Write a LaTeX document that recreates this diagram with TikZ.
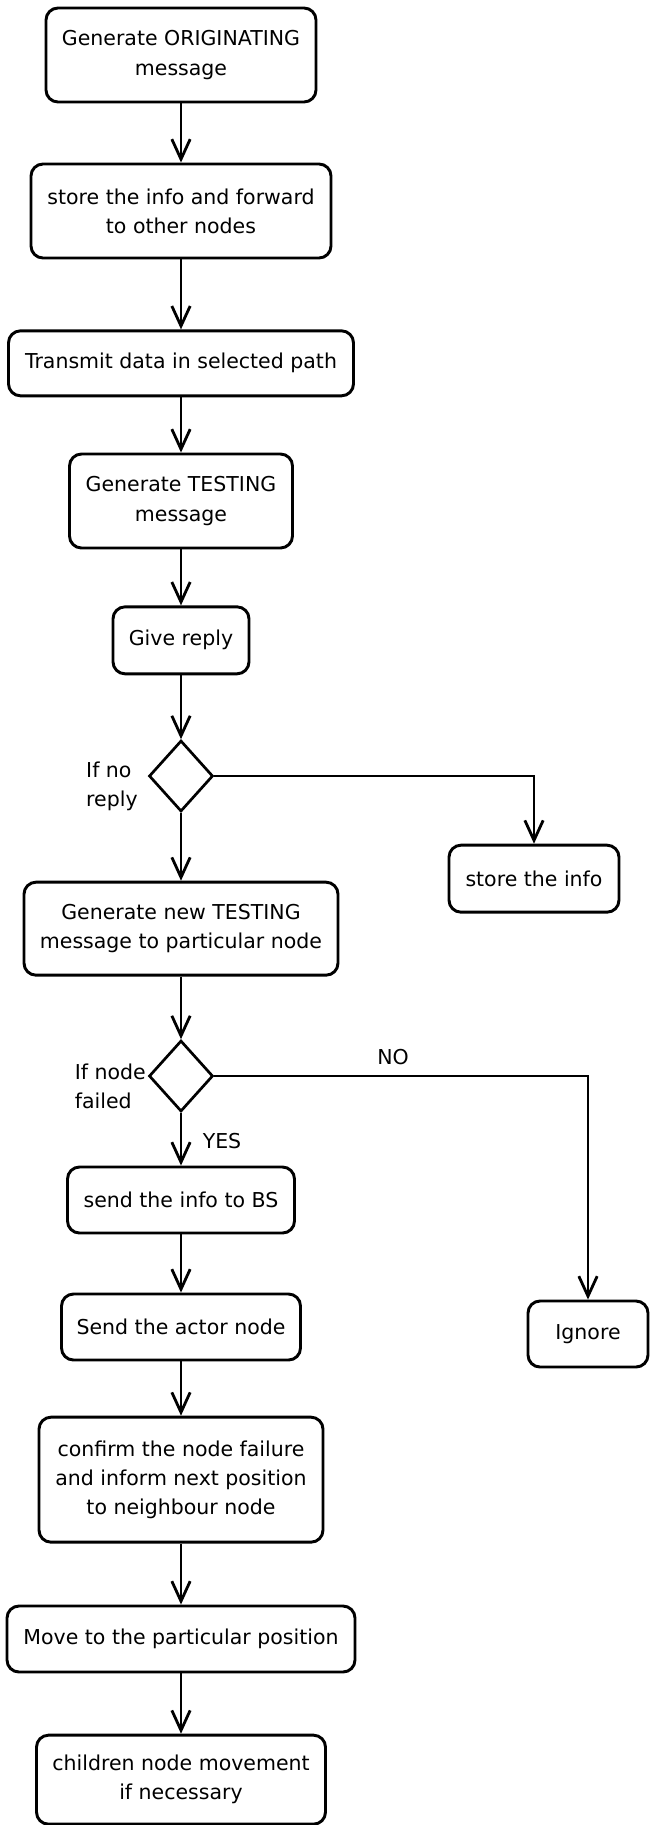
\documentclass[tikz,border=0pt]{standalone}
\usepackage{fontspec}
\setmainfont{DejaVu Sans}
\usepackage{tikz}
\usetikzlibrary{
  arrows.meta,
  positioning,
  shapes.geometric
}
\newcommand{\boxfont}{\fontsize{17.5}{24.8}\selectfont}

\begin{document}
\begin{tikzpicture}[
  stepbox/.style={draw, line width=2.5pt, rounded corners=0.36cm,
                  inner sep=0pt, font=\boxfont, align=center},
  decide/.style={draw, line width=2.3pt, diamond, inner sep=0pt,
                 minimum width=1.92cm, minimum height=2.13cm},
  arr/.style={-{Straight Barb[length=0.6cm, width=0.55cm]}, line width=2.4pt},
  lbl/.style={font=\boxfont, inner sep=0pt},
]
  \useasboundingbox (0, 0) rectangle (19.47, -54.75);

  % Main column
  \node[stepbox, minimum width=8.1cm, minimum height=2.82cm] (orig) at (5.43, -1.65) {Generate ORIGINATING\\message};
  \node[stepbox, minimum width=9.0cm, minimum height=2.82cm] (fwd) at (5.43, -6.33) {store the info and forward\\to other nodes};
  \node[stepbox, minimum width=10.35cm, minimum height=1.95cm] (trans) at (5.43, -10.9) {Transmit data in selected path};
  \node[stepbox, minimum width=6.69cm, minimum height=2.82cm] (test) at (5.43, -15.03) {Generate TESTING\\message};
  \node[stepbox, minimum width=4.08cm, minimum height=2.01cm] (reply) at (5.43, -19.21) {Give reply};
  \node[decide] (noreply) at (5.43, -23.28) {};
  \node[stepbox, minimum width=9.42cm, minimum height=2.79cm] (newtest) at (5.43, -27.86) {Generate new TESTING\\message to particular node};
  \node[decide] (failed) at (5.43, -32.28) {};
  \node[stepbox, minimum width=6.81cm, minimum height=1.98cm] (tobs) at (5.43, -36.0) {send the info to BS};
  \node[stepbox, minimum width=7.17cm, minimum height=1.98cm] (actor) at (5.43, -39.81) {Send the actor node};
  \node[stepbox, minimum width=8.52cm, minimum height=3.75cm] (confirm) at (5.43, -44.39) {confirm the node failure\\and inform next position\\to neighbour node};
  \node[stepbox, minimum width=10.44cm, minimum height=1.98cm] (move) at (5.43, -49.17) {Move to the particular position};
  \node[stepbox, minimum width=8.67cm, minimum height=2.67cm] (child) at (5.43, -53.39) {children node movement\\if necessary};

  % Side branches
  \node[stepbox, minimum width=5.1cm, minimum height=2.01cm] (store) at (16.02, -26.36) {store the info};
  \node[stepbox, minimum width=3.6cm, minimum height=1.98cm] (ignore) at (17.64, -40.02) {Ignore};

  % Labels
  \node[lbl, align=left, anchor=west] (ifno) at (2.58, -23.58) {If no\\reply};
  \node[lbl, align=left, anchor=west] (iffail) at (2.24, -32.6) {If node\\failed};
  \node[lbl] (no) at (11.79, -31.71) {NO};
  \node[lbl] (yes) at (6.66, -34.23) {YES};

  % Arrows
  \draw[arr] (orig) -- (fwd);
  \draw[arr] (fwd) -- (trans);
  \draw[arr] (trans) -- (test);
  \draw[arr] (test) -- (reply);
  \draw[arr] (reply) -- (noreply);
  \draw[arr] (noreply.east) -| (store.north);
  \draw[arr] (noreply) -- (newtest);
  \draw[arr] (newtest) -- (failed);
  \draw[arr] (failed.east) -| (ignore.north);
  \draw[arr] (failed) -- (tobs);
  \draw[arr] (tobs) -- (actor);
  \draw[arr] (actor) -- (confirm);
  \draw[arr] (confirm) -- (move);
  \draw[arr] (move) -- (child);
\end{tikzpicture}
\end{document}
